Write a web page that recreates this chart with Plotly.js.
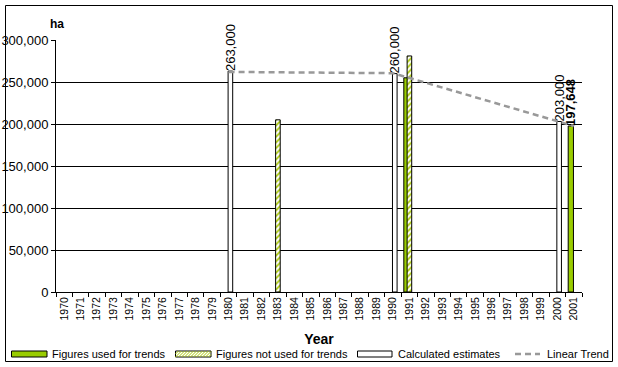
<!DOCTYPE html>
<html>
<head>
<meta charset="utf-8">
<script src="https://cdn.plot.ly/plotly-3.0.1.min.js"></script>
<style>
html,body{margin:0;padding:0;background:#fff;}
#chart{width:618px;height:367px;}
</style>
</head>
<body>
<div id="chart"></div>
<script>
// ---- data ----
const years = ['1970','1971','1972','1973','1974','1975','1976','1977','1978','1979',
               '1980','1981','1982','1983','1984','1985','1986','1987','1988','1989',
               '1990','1991','1992','1993','1994','1995','1996','1997','1998','1999',
               '2000','2001'];

const usedYears  = ['1991', '2001'];
const usedValues = [255000, 197648];
const usedLabels = ['', '197,648'];

const notUsedYears  = ['1983', '1991'];
const notUsedValues = [205000, 281000];

const calcYears  = ['1980', '1990', '2000'];
const calcValues = [263000, 260000, 203000];
const calcLabels = ['263,000', '260,000', '203,000'];

const trendYears  = ['1980', '1990', '2001'];
const trendValues = [262000, 260500, 197648];

const seriesNames = ['Figures used for trends', 'Figures not used for trends',
                     'Calculated estimates', 'Linear Trend'];

// ---- chart ----
const FONT = 'Liberation Sans, Arial, sans-serif';
const GREEN = '#99cc00';
const HATCH = '#a8c800';

const traces = [
  {
    type: 'bar', name: seriesNames[0], x: usedYears, y: usedValues,
    text: usedLabels, textposition: 'outside', textangle: -90, constraintext: 'none',
    textfont: {family: FONT, size: 13, color: '#000', weight: 'bold'},
    cliponaxis: false,
    offset: -0.34, width: 0.32,
    marker: {color: GREEN, line: {color: '#000', width: 1}},
    hoverinfo: 'skip'
  },
  {
    type: 'bar', name: seriesNames[1], x: notUsedYears, y: notUsedValues,
    offset: -0.14, width: 0.28,
    marker: {color: '#ffffff', line: {color: '#000', width: 1},
             pattern: {shape: '/', fgcolor: HATCH, bgcolor: '#ffffff', size: 4, solidity: 0.45}},
    hoverinfo: 'skip'
  },
  {
    type: 'bar', name: seriesNames[2], x: calcYears, y: calcValues,
    text: calcLabels, textposition: 'outside', textangle: -90, constraintext: 'none',
    textfont: {family: FONT, size: 13, color: '#000'},
    cliponaxis: false,
    offset: -0.03, width: 0.28,
    marker: {color: '#ffffff', line: {color: '#000', width: 1}},
    hoverinfo: 'skip'
  },
  {
    type: 'scatter', mode: 'lines', name: seriesNames[3], x: trendYears, y: trendValues,
    line: {color: '#999999', width: 2.5, dash: '6px,4px'},
    hoverinfo: 'skip'
  }
];

const L = 56, T = 40, PW = 526, PH = 252;
const px2x = p => (p - L) / PW;
const px2y = p => (T + PH - p) / PH;

// custom legend (wide swatches like the original)
const legY0 = 351, legY1 = 357, legYc = 354;
const legendItems = [
  {x0: 11.5, x1: 47, tx: 50, kind: 'fill'},
  {x0: 175.5, x1: 211, tx: 214, kind: 'hatch'},
  {x0: 357.5, x1: 392, tx: 396, kind: 'empty'},
  {x0: 515, x1: 540, tx: 545, kind: 'dash'}
];
const shapes = [
  {type: 'rect', xref: 'paper', yref: 'paper',
   x0: px2x(5.5), x1: px2x(612.5), y0: px2y(361.5), y1: px2y(5.5),
   line: {color: '#000', width: 1}, fillcolor: 'rgba(0,0,0,0)', layer: 'above'}
];
const annotations = [
  {text: '<b>ha</b>', xref: 'paper', yref: 'paper', x: px2x(56.5), y: px2y(24),
   xanchor: 'center', yanchor: 'middle', showarrow: false,
   font: {family: FONT, size: 12, color: '#000'}}
];
legendItems.forEach((it, i) => {
  if (it.kind === 'dash') {
    shapes.push({type: 'line', xref: 'paper', yref: 'paper',
      x0: px2x(it.x0), x1: px2x(it.x1), y0: px2y(legYc), y1: px2y(legYc),
      line: {color: '#999999', width: 2.5, dash: '6px,4px'}});
  } else {
    const fill = it.kind === 'fill' ? GREEN : '#ffffff';
    shapes.push({type: 'rect', xref: 'paper', yref: 'paper',
      x0: px2x(it.x0), x1: px2x(it.x1), y0: px2y(legY1), y1: px2y(legY0),
      line: {color: '#000', width: 1}, fillcolor: fill});
    if (it.kind === 'hatch') {
      let d = '';
      for (let s = it.x0 - 6; s < it.x1; s += 3) {
        let xa = s, ya = legY1, xb = s + (legY1 - legY0), yb = legY0;
        if (xa < it.x0) { ya = legY1 - (it.x0 - xa); xa = it.x0; }
        if (xb > it.x1) { yb = legY0 + (xb - it.x1); xb = it.x1; }
        if (xb <= xa) continue;
        d += 'M' + px2x(xa) + ',' + px2y(ya) + 'L' + px2x(xb) + ',' + px2y(yb);
      }
      shapes.push({type: 'path', xref: 'paper', yref: 'paper', path: d,
        line: {color: HATCH, width: 1}});
    }
  }
  annotations.push({text: seriesNames[i], xref: 'paper', yref: 'paper',
    x: px2x(it.tx), y: px2y(legYc), xanchor: 'left', yanchor: 'middle', showarrow: false,
    font: {family: FONT, size: 11, color: '#000'}});
});

const layout = {
  width: 618, height: 367,
  margin: {l: 56, r: 36, t: 40, b: 75, pad: 0},
  paper_bgcolor: '#ffffff', plot_bgcolor: '#ffffff',
  font: {family: FONT, color: '#000', size: 11},
  barmode: 'overlay',
  xaxis: {
    type: 'category', categoryorder: 'array', categoryarray: years,
    range: [-0.5, years.length - 0.5],
    tickson: 'boundaries', ticks: 'outside', ticklen: 4, tickcolor: '#000', tickwidth: 1,
    tickangle: -90, tickfont: {family: FONT, size: 10.5, color: '#000'},
    showline: true, linecolor: '#000', linewidth: 1,
    showgrid: false, zeroline: false, fixedrange: true, automargin: false,
    title: {text: 'Year', font: {family: FONT, size: 14, color: '#000', weight: 'bold'}}
  },
  yaxis: {
    range: [0, 300000], dtick: 50000, tickformat: ',d',
    ticks: 'outside', ticklen: 4, tickcolor: '#000', tickwidth: 1,
    tickfont: {family: FONT, size: 13, color: '#000'},
    showline: true, linecolor: '#000', linewidth: 1,
    showgrid: true, gridcolor: '#000', gridwidth: 1,
    zeroline: false, fixedrange: true, automargin: false
  },
  showlegend: false,
  annotations: annotations,
  shapes: shapes
};

Plotly.newPlot('chart', traces, layout, {displayModeBar: false, staticPlot: true});
</script>
</body>
</html>
